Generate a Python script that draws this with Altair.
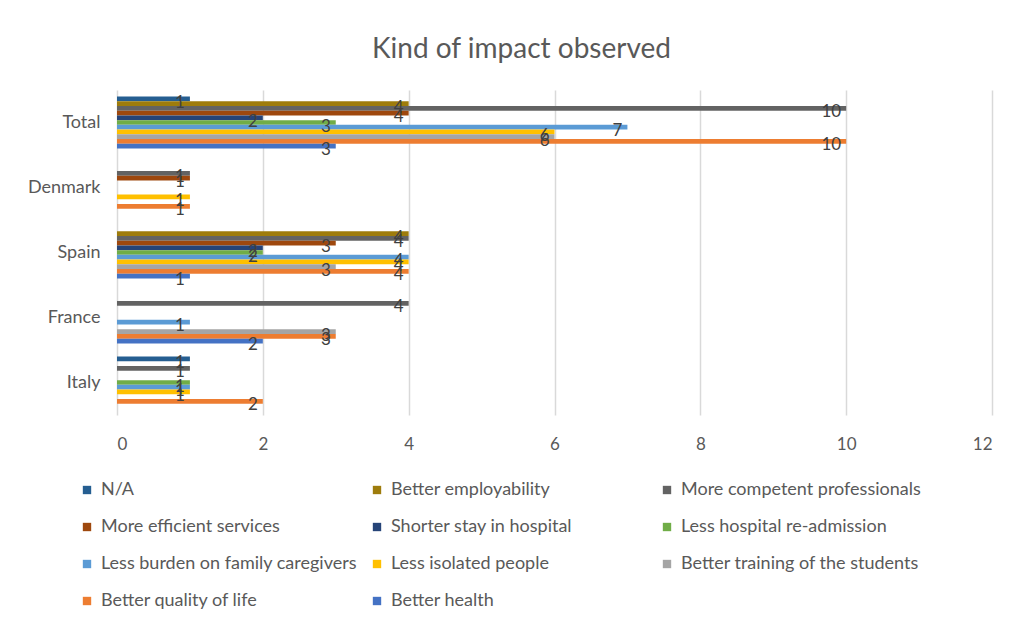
import altair as alt
import pandas as pd

# Categories shown top to bottom on the vertical axis
categories = ["Total", "Denmark", "Spain", "France", "Italy"]

# Series in legend order (also top-to-bottom order inside each group)
series = [
    "N/A",
    "Better employability",
    "More competent professionals",
    "More efficient services",
    "Shorter stay in hospital",
    "Less hospital re-admission",
    "Less burden on family caregivers",
    "Less isolated people",
    "Better training of the students",
    "Better quality of life",
    "Better health",
]

colors = [
    "#255E91", "#9E7C0C", "#636363", "#9E480E", "#264478", "#70AD47",
    "#5B9BD5", "#FFC000", "#A5A5A5", "#ED7D31", "#4472C4",
]

# Counts per series, in category order: Total, Denmark, Spain, France, Italy
na_vals = [1, 0, 0, 0, 1]
employability = [4, 0, 4, 0, 0]
competent = [10, 1, 4, 4, 1]
efficient = [4, 1, 3, 0, 0]
shorter_stay = [2, 0, 2, 0, 0]
readmission = [3, 0, 2, 0, 1]
burden = [7, 0, 4, 1, 1]
isolated = [6, 1, 4, 0, 1]
training = [6, 0, 3, 3, 0]
quality = [10, 1, 4, 3, 2]
health = [3, 0, 1, 2, 0]

x_ticks = [0, 2, 4, 6, 8, 10, 12]

values = [na_vals, employability, competent, efficient, shorter_stay,
          readmission, burden, isolated, training, quality, health]

rows = []
for name, vals in zip(series, values):
    for cat, v in zip(categories, vals):
        if v > 0:
            rows.append({"category": cat, "series": name, "count": v})
df = pd.DataFrame(rows)

FONT = "Lato"
TEXT = "#595959"

y_enc = alt.Y(
    "category:N",
    sort=categories,
    scale=alt.Scale(domain=categories, paddingInner=0.2, paddingOuter=0.1),
    axis=alt.Axis(title=None, domain=False, ticks=False, labelPadding=17,
                  labelFontSize=18, labelColor=TEXT, labelFont=FONT),
)
yoff_enc = alt.YOffset("series:N", scale=alt.Scale(domain=series, paddingInner=0, paddingOuter=0))
x_enc = alt.X(
    "count:Q",
    scale=alt.Scale(domain=[0, 12], nice=False),
    axis=alt.Axis(title=None, values=x_ticks, format="d", domain=False, ticks=False,
                  grid=True, gridColor="#D9D9D9", gridWidth=1.5,
                  labelPadding=21, labelFontSize=17, labelColor=TEXT, labelFont=FONT),
)

bars = alt.Chart(df).mark_bar().encode(
    x=x_enc,
    y=y_enc,
    yOffset=yoff_enc,
    color=alt.Color(
        "series:N",
        scale=alt.Scale(domain=series, range=colors),
        legend=alt.Legend(
            title=None, orient="none", legendX=-39, legendY=391,
            direction="horizontal", columns=3, gridAlign="all",
            columnPadding=11, rowPadding=19,
            symbolType="square", symbolSize=70, symbolStrokeWidth=0,
            labelFontSize=18, labelColor=TEXT, labelFont=FONT,
            labelOffset=5, labelLimit=400, padding=0,
        ),
    ),
)

labels = alt.Chart(df).mark_text(
    align="right", baseline="middle", dx=-5, dy=4,
    fontSize=17, font=FONT, color="#404040",
).encode(
    x="count:Q",
    y=alt.Y("category:N", sort=categories),
    yOffset=alt.YOffset("series:N"),
    text="count:Q",
)

chart = (
    alt.layer(bars, labels)
    .properties(
        width=875,
        height=325,
        title=alt.TitleParams(
            "Kind of impact observed", fontSize=28, font=FONT, color=TEXT,
            fontWeight="normal", anchor="middle", dx=-33, offset=4,
            baseline="alphabetic",
        ),
        autosize=alt.AutoSizeParams(type="none"),
        padding={"left": 117, "top": 90, "right": 23, "bottom": 213},
    )
    .configure(background="white")
    .configure_view(stroke=None)
)

chart.save("out.html", embed_options={"renderer": "svg", "actions": False})
